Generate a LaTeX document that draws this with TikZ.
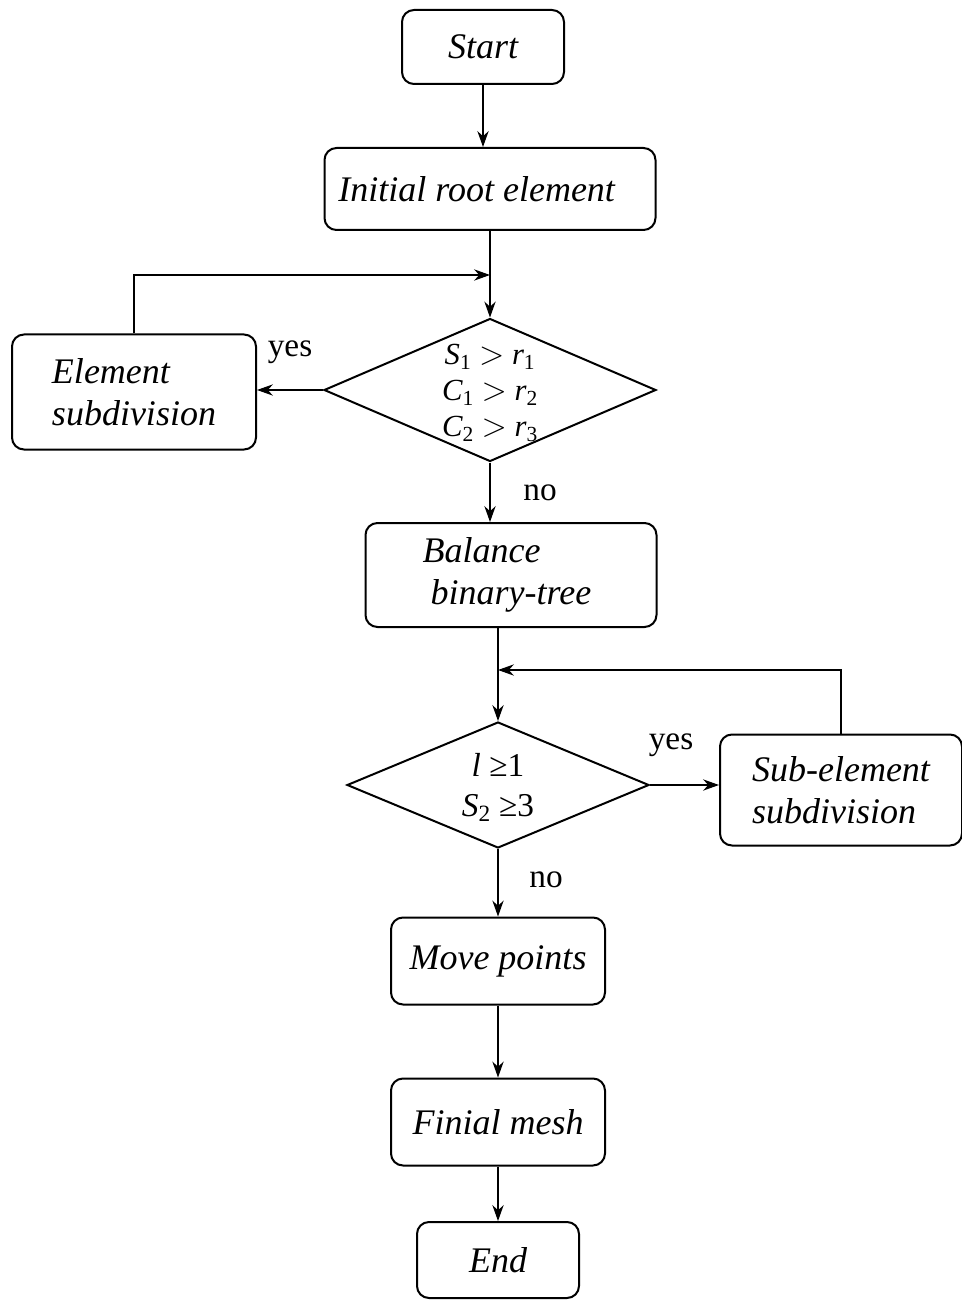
\documentclass[tikz,border=0pt]{standalone}
\usepackage{fontspec}
\setmainfont{Liberation Serif}
\usetikzlibrary{arrows.meta,shapes.geometric}
\begin{document}
\begin{tikzpicture}[x=0.75pt,y=-0.75pt,
  >={Stealth[length=12pt,width=8.5pt,inset=4pt]},
  box/.style={draw,line width=1.5pt,rounded corners=9pt,inner sep=0pt,
    font=\fontsize{27}{31.5}\selectfont\itshape,align=left},
  dia/.style={draw,line width=1.5pt,diamond,inner sep=0pt,shape aspect=1},
  conn/.style={line width=0.9pt},
  lab/.style={font=\fontsize{25}{30}\selectfont,inner sep=0pt}]
\useasboundingbox (0,0) rectangle (962,1301);
% nodes
\node[box,minimum width=121.5pt,minimum height=55.5pt] (start) at (483,47) {Start};
\node[box,minimum width=248.25pt,minimum height=61.5pt] (init) at (490,189) {\hspace*{-20pt}Initial root element};
\node[dia,minimum width=249pt,minimum height=107.25pt] (d1) at (490,390) {};
\node[align=center,inner sep=0pt,font=\fontsize{23}{27}\selectfont] (d1t) at (490,393)
  {{\itshape S}\textsubscript{1} \(>\) {\itshape r}\textsubscript{1}\\
   {\itshape C}\textsubscript{1} \(>\) {\itshape r}\textsubscript{2}\\
   {\itshape C}\textsubscript{2} \(>\) {\itshape r}\textsubscript{3}};
\node[box,minimum width=183pt,minimum height=86.25pt] (elem) at (134,392) {Element\\subdivision};
\node[box,minimum width=218.25pt,minimum height=78pt] (bal) at (511,575) {\hspace*{-6pt}Balance\\binary-tree};
\node[dia,minimum width=226.5pt,minimum height=94.5pt] (d2) at (498,785) {};
\node[align=center,inner sep=0pt,font=\fontsize{25}{30}\selectfont] (d2t) at (498,787)
  {{\itshape l} ≥1\\ {\itshape S}\textsubscript{2} ≥3};
\node[box,minimum width=181.5pt,minimum height=83.25pt] (sub) at (841,790) {Sub-element\\subdivision};
\node[box,minimum width=160.5pt,minimum height=65.25pt] (move) at (498,961) {Move points};
\node[box,minimum width=160.5pt,minimum height=65.25pt] (fin) at (498,1122) {Finial mesh};
\node[box,minimum width=121.5pt,minimum height=57pt] (end) at (498,1260) {End};
% labels
\node[lab] (y1) at (290,352) {yes};
\node[lab] (n1) at (540,493) {no};
\node[lab] (y2) at (671,745) {yes};
\node[lab] (n2) at (546,880) {no};
% junctions
\coordinate (j1) at (490,275);
\coordinate (j2) at (498,670);
% connectors
\draw[conn,->] (start.south) -- (start.south |- init.north);
\draw[conn,->] (init.south) -- (d1.north);
\draw[conn,->] (elem.north) |- (j1);
\draw[conn,->] (d1.west) -- (d1.west -| elem.east);
\draw[conn,->] (d1.south) -- (bal.north -| d1.south);
\draw[conn,->] (bal.south -| d2.north) -- (d2.north);
\draw[conn,->] (sub.north) |- (j2);
\draw[conn,->] (d2.east) -- (d2.east -| sub.west);
\draw[conn,->] (d2.south) -- (move.north);
\draw[conn,->] (move.south) -- (fin.north);
\draw[conn,->] (fin.south) -- (end.north);
\end{tikzpicture}
\end{document}
